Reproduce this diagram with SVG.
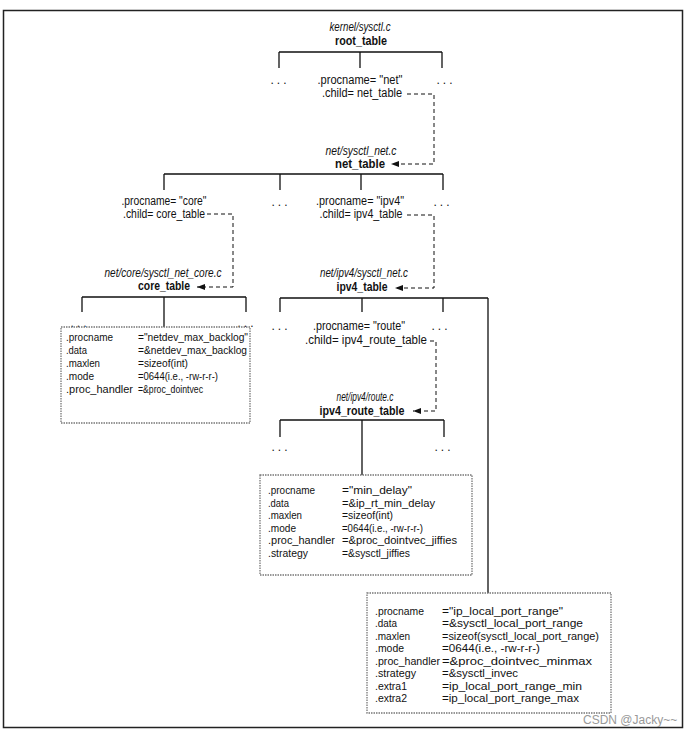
<svg xmlns="http://www.w3.org/2000/svg" width="694" height="737" viewBox="0 0 694 737">
<defs>
<marker id="ah" viewBox="0 0 8 6" refX="8" refY="3" markerWidth="8" markerHeight="6" orient="auto" markerUnits="userSpaceOnUse">
<path d="M0,0 L8,3 L0,6 Z" fill="#111"/>
</marker>
<style>
text{font-family:"Liberation Sans",Arial,sans-serif;fill:#111;}
.lbl{font-size:12px;text-anchor:middle;}
.it{font-style:italic;}
.b{font-weight:bold;}
.bx{font-size:10.8px;}
.dots{font-size:12px;text-anchor:middle;letter-spacing:3px;}
.tree{fill:none;stroke:#111;stroke-width:1.3;}
.dash{fill:none;stroke:#111;stroke-width:1;stroke-dasharray:4 3;}
.box{fill:#fff;stroke:#777;stroke-width:1.3;stroke-dasharray:1.5 1;}
.wm{font-size:12px;fill:#999;}
</style>
</defs>
<rect x="3.5" y="10.5" width="679" height="717" fill="none" stroke="#222" stroke-width="1.5"/>

<g id="connectors">
<path class="tree" d="M279,52 H442 M279,52 V68 M360,52 V68 M442,52 V68"/>
<path class="tree" d="M164,174 H443 M164,174 V190 M280,174 V190 M361,174 V190 M443,174 V190"/>
<path class="tree" d="M82,297 H246 M82,297 V312 M246,297 V312 M164,297 V327"/>
<path class="tree" d="M280,298 H488 M280,298 V312 M362,298 V312 M443,298 V312 M488,298 V593"/>
<path class="tree" d="M280,420 H444 M280,420 V437 M444,420 V437 M362,420 V475"/>
<path class="dash" d="M407,94 H434 V164 H391" marker-end="url(#ah)"/>
<path class="dash" d="M407,215 H434 V288 H395" marker-end="url(#ah)"/>
<path class="dash" d="M207,214 H233 V287 H197" marker-end="url(#ah)"/>
<path class="dash" d="M430,341 H436 V411 H413" marker-end="url(#ah)"/>
</g>

<g id="root_table">
<text class="lbl it" x="360" y="31" textLength="61" lengthAdjust="spacingAndGlyphs">kernel/sysctl.c</text>
<text class="lbl b" x="361" y="45" textLength="52" lengthAdjust="spacingAndGlyphs">root_table</text>
<text class="dots" x="280" y="84">...</text>
<text class="lbl" x="360" y="84" textLength="85" lengthAdjust="spacingAndGlyphs">.procname= "net"</text>
<text class="lbl" x="362" y="97" textLength="80" lengthAdjust="spacingAndGlyphs">.child= net_table</text>
<text class="dots" x="446" y="84">...</text>
</g>

<g id="net_table">
<text class="lbl it" x="361" y="155" textLength="71" lengthAdjust="spacingAndGlyphs">net/sysctl_net.c</text>
<text class="lbl b" x="360" y="168" textLength="50" lengthAdjust="spacingAndGlyphs">net_table</text>
<text class="lbl" x="164" y="205" textLength="85" lengthAdjust="spacingAndGlyphs">.procname= "core"</text>
<text class="lbl" x="164" y="218" textLength="82" lengthAdjust="spacingAndGlyphs">.child= core_table</text>
<text class="dots" x="281" y="206">...</text>
<text class="lbl" x="360" y="205" textLength="88" lengthAdjust="spacingAndGlyphs">.procname= "ipv4"</text>
<text class="lbl" x="361" y="218" textLength="83" lengthAdjust="spacingAndGlyphs">.child= ipv4_table</text>
<text class="dots" x="443" y="206">...</text>
</g>

<g id="core_table">
<text class="lbl it" x="163" y="277" textLength="117" lengthAdjust="spacingAndGlyphs">net/core/sysctl_net_core.c</text>
<text class="lbl b" x="164" y="290" textLength="52" lengthAdjust="spacingAndGlyphs">core_table</text>
<text class="dots" x="80" y="327">...</text>
<text class="dots" x="247" y="327">...</text>
</g>

<g id="netdev_max_backlog">
<rect class="box" x="61" y="327" width="189" height="96"/>
<text class="bx" x="66" y="341" textLength="47" lengthAdjust="spacingAndGlyphs">.procname</text>
<text class="bx" x="138" y="341" textLength="110" lengthAdjust="spacingAndGlyphs">="netdev_max_backlog"</text>
<text class="bx" x="66" y="354" textLength="21" lengthAdjust="spacingAndGlyphs">.data</text>
<text class="bx" x="138" y="354" textLength="109" lengthAdjust="spacingAndGlyphs">=&amp;netdev_max_backlog</text>
<text class="bx" x="66" y="367" textLength="34" lengthAdjust="spacingAndGlyphs">.maxlen</text>
<text class="bx" x="138" y="367" textLength="50" lengthAdjust="spacingAndGlyphs">=sizeof(int)</text>
<text class="bx" x="66" y="380" textLength="28" lengthAdjust="spacingAndGlyphs">.mode</text>
<text class="bx" x="138" y="380" textLength="80" lengthAdjust="spacingAndGlyphs">=0644(i.e., -rw-r-r-)</text>
<text class="bx" x="66" y="393" textLength="67" lengthAdjust="spacingAndGlyphs">.proc_handler</text>
<text class="bx" x="138" y="393" textLength="65" lengthAdjust="spacingAndGlyphs">=&amp;proc_dointvec</text>
</g>

<g id="ipv4_table">
<text class="lbl it" x="364" y="277" textLength="88" lengthAdjust="spacingAndGlyphs">net/ipv4/sysctl_net.c</text>
<text class="lbl b" x="362" y="291" textLength="51" lengthAdjust="spacingAndGlyphs">ipv4_table</text>
<text class="dots" x="281" y="330">...</text>
<text class="lbl" x="359" y="330" textLength="92" lengthAdjust="spacingAndGlyphs">.procname= "route"</text>
<text class="lbl" x="366" y="344" textLength="122" lengthAdjust="spacingAndGlyphs">.child= ipv4_route_table</text>
<text class="dots" x="441" y="330">...</text>
</g>

<g id="ipv4_route_table">
<text class="lbl it" x="365" y="401" textLength="57" lengthAdjust="spacingAndGlyphs">net/ipv4/route.c</text>
<text class="lbl b" x="362" y="415" textLength="85" lengthAdjust="spacingAndGlyphs">ipv4_route_table</text>
<text class="dots" x="281" y="451">...</text>
<text class="dots" x="444" y="451">...</text>
</g>

<g id="min_delay">
<rect class="box" x="260" y="475" width="212" height="100"/>
<text class="bx" x="268" y="494" textLength="47" lengthAdjust="spacingAndGlyphs">.procname</text>
<text class="bx" x="342" y="494" textLength="70" lengthAdjust="spacingAndGlyphs">="min_delay"</text>
<text class="bx" x="268" y="507" textLength="21" lengthAdjust="spacingAndGlyphs">.data</text>
<text class="bx" x="342" y="507" textLength="93" lengthAdjust="spacingAndGlyphs">=&amp;ip_rt_min_delay</text>
<text class="bx" x="268" y="519" textLength="34" lengthAdjust="spacingAndGlyphs">.maxlen</text>
<text class="bx" x="342" y="519" textLength="51" lengthAdjust="spacingAndGlyphs">=sizeof(int)</text>
<text class="bx" x="268" y="532" textLength="28" lengthAdjust="spacingAndGlyphs">.mode</text>
<text class="bx" x="342" y="532" textLength="81" lengthAdjust="spacingAndGlyphs">=0644(i.e., -rw-r-r-)</text>
<text class="bx" x="268" y="544" textLength="67" lengthAdjust="spacingAndGlyphs">.proc_handler</text>
<text class="bx" x="342" y="544" textLength="115" lengthAdjust="spacingAndGlyphs">=&amp;proc_dointvec_jiffies</text>
<text class="bx" x="268" y="557" textLength="40" lengthAdjust="spacingAndGlyphs">.strategy</text>
<text class="bx" x="342" y="557" textLength="68" lengthAdjust="spacingAndGlyphs">=&amp;sysctl_jiffies</text>
</g>

<g id="ip_local_port_range">
<rect class="box" x="367" y="593" width="244" height="120"/>
<text class="bx" x="375" y="615" textLength="49" lengthAdjust="spacingAndGlyphs">.procname</text>
<text class="bx" x="442" y="615" textLength="121" lengthAdjust="spacingAndGlyphs">="ip_local_port_range"</text>
<text class="bx" x="375" y="627" textLength="22" lengthAdjust="spacingAndGlyphs">.data</text>
<text class="bx" x="442" y="627" textLength="141" lengthAdjust="spacingAndGlyphs">=&amp;sysctl_local_port_range</text>
<text class="bx" x="375" y="640" textLength="35" lengthAdjust="spacingAndGlyphs">.maxlen</text>
<text class="bx" x="442" y="640" textLength="157" lengthAdjust="spacingAndGlyphs">=sizeof(sysctl_local_port_range)</text>
<text class="bx" x="375" y="652" textLength="29" lengthAdjust="spacingAndGlyphs">.mode</text>
<text class="bx" x="442" y="652" textLength="98" lengthAdjust="spacingAndGlyphs">=0644(i.e., -rw-r-r-)</text>
<text class="bx" x="375" y="665" textLength="65" lengthAdjust="spacingAndGlyphs">.proc_handler</text>
<text class="bx" x="442" y="665" textLength="150" lengthAdjust="spacingAndGlyphs">=&amp;proc_dointvec_minmax</text>
<text class="bx" x="375" y="677" textLength="41" lengthAdjust="spacingAndGlyphs">.strategy</text>
<text class="bx" x="442" y="677" textLength="76" lengthAdjust="spacingAndGlyphs">=&amp;sysctl_invec</text>
<text class="bx" x="375" y="690" textLength="32" lengthAdjust="spacingAndGlyphs">.extra1</text>
<text class="bx" x="442" y="690" textLength="140" lengthAdjust="spacingAndGlyphs">=ip_local_port_range_min</text>
<text class="bx" x="375" y="702" textLength="32" lengthAdjust="spacingAndGlyphs">.extra2</text>
<text class="bx" x="442" y="702" textLength="137" lengthAdjust="spacingAndGlyphs">=ip_local_port_range_max</text>
</g>

<text class="wm" x="583" y="724">CSDN @Jacky~~</text>
</svg>
